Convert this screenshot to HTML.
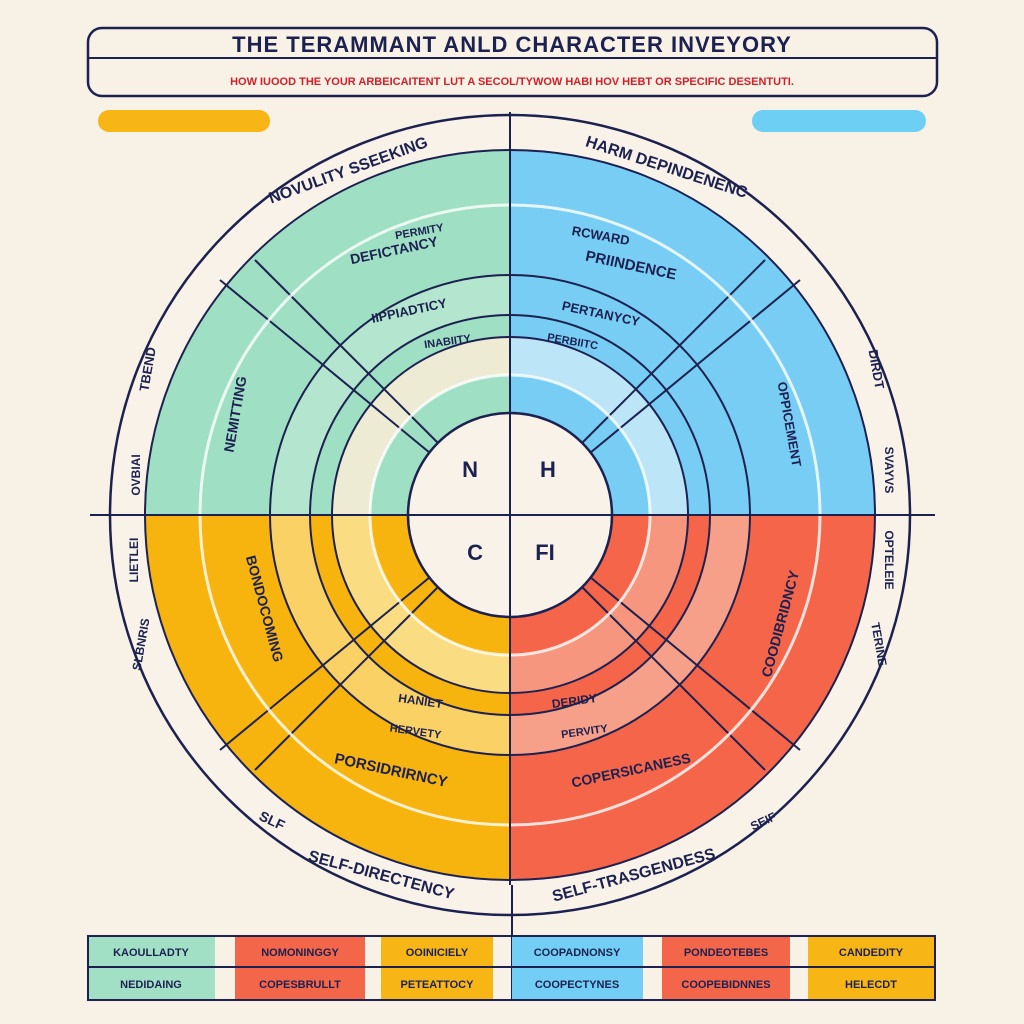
<!DOCTYPE html>
<html><head><meta charset="utf-8"><style>
body{margin:0;background:#f7f1e6;}
svg{display:block}
text{font-family:"Liberation Sans",sans-serif;font-weight:bold;fill:#1c2150}
</style></head><body>
<svg width="1024" height="1024" viewBox="0 0 1024 1024" xmlns="http://www.w3.org/2000/svg">
<rect width="1024" height="1024" fill="#f7f1e6"/>
<!-- header -->
<rect x="88" y="28" width="849" height="68" rx="14" fill="none" stroke="#1c2150" stroke-width="2.5"/>
<line x1="88" y1="58" x2="937" y2="58" stroke="#1c2150" stroke-width="2"/>
<text x="512" y="52" font-size="22" text-anchor="middle" letter-spacing="1">THE TERAMMANT ANLD CHARACTER  INVEYORY</text>
<text x="512" y="85" font-size="11" text-anchor="middle" style="fill:#d0202a">HOW IUOOD THE YOUR ARBEICAITENT LUT A SECOL/TYWOW HABI  HOV HEBT OR SPECIFIC DESENTUTI.</text>
<rect x="98" y="110" width="172" height="22" rx="11" fill="#f8b616"/>
<rect x="752" y="110" width="174" height="22" rx="11" fill="#6ecff5"/>
<!-- circle -->
<g transform="translate(510,515)">
<circle r="400" fill="#f8f2e8" stroke="#1c2150" stroke-width="2.5"/>
<path d="M0 0 L0 -365 A365 365 0 0 0 -365 0Z" fill="#9fdfc4"/>
<path d="M0 0 L365 0 A365 365 0 0 0 0 -365Z" fill="#78cdf5"/>
<path d="M0 0 L-365 0 A365 365 0 0 0 0 365Z" fill="#f7b40e"/>
<path d="M0 0 L0 365 A365 365 0 0 0 365 0Z" fill="#f4654a"/>
<!-- pale bands -->
<path d="M0 -178 A178 178 0 0 0 -178 0 L-140 0 A140 140 0 0 1 0 -140Z" fill="#f5ecd6" opacity="0.9"/>
<path d="M178 0 A178 178 0 0 0 0 -178 L0 -140 A140 140 0 0 1 140 0Z" fill="#cdebf7" opacity="0.8"/>
<path d="M-178 0 A178 178 0 0 0 0 178 L0 140 A140 140 0 0 1 -140 0Z" fill="#f9e190" opacity="0.9"/>
<path d="M0 178 A178 178 0 0 0 178 0 L140 0 A140 140 0 0 1 0 140Z" fill="#f6b7a2" opacity="0.6"/>
<path d="M0 -240 A240 240 0 0 0 -240 0 L-200 0 A200 200 0 0 1 0 -200Z" fill="#c3e9d6" opacity="0.6"/>
<path d="M0 240 A240 240 0 0 0 240 0 L200 0 A200 200 0 0 1 0 200Z" fill="#f8c8b4" opacity="0.6"/>
<path d="M-240 0 A240 240 0 0 0 0 240 L0 200 A200 200 0 0 1 -200 0Z" fill="#fbe5a0" opacity="0.6"/>
<g fill="none" stroke="#1c2150" stroke-width="2">
<circle r="365"/><circle r="240"/><circle r="200"/><circle r="178"/>
<line x1="-70" y1="-70" x2="-255" y2="-255"/><line x1="-80" y1="-62" x2="-290" y2="-235"/>
<line x1="70" y1="-70" x2="255" y2="-255"/><line x1="80" y1="-62" x2="290" y2="-235"/>
<line x1="-70" y1="70" x2="-255" y2="255"/><line x1="-80" y1="62" x2="-290" y2="235"/>
<line x1="70" y1="70" x2="255" y2="255"/><line x1="80" y1="62" x2="290" y2="235"/>
</g>
<g stroke="#fff" stroke-width="3" fill="none" opacity="0.8"><circle r="310"/><circle r="140"/></g>
<circle r="102" fill="#f8f2e8" stroke="#1c2150" stroke-width="2.5"/>
<line x1="0" y1="-403" x2="0" y2="370" stroke="#1c2150" stroke-width="2"/>
<line x1="-420" y1="0" x2="425" y2="0" stroke="#1c2150" stroke-width="2"/>
<text x="-40" y="-38" font-size="22" text-anchor="middle">N</text>
<text x="38" y="-38" font-size="22" text-anchor="middle">H</text>
<text x="-35" y="45" font-size="22" text-anchor="middle">C</text>
<text x="35" y="45" font-size="22" text-anchor="middle">FI</text>
</g>
<line x1="512" y1="885" x2="512" y2="1000" stroke="#1c2150" stroke-width="2"/>
<!-- labels -->
<text x="350" y="175" font-size="16" text-anchor="middle" transform="rotate(-20 350 175)">NOVULITY SSEEKING</text>
<text x="665" y="172" font-size="16" text-anchor="middle" transform="rotate(18 665 172)">HARM DEPINDENENC</text>
<text x="395" y="255" font-size="14" text-anchor="middle" transform="rotate(-12 395 255)">DEFICTANCY</text>
<text x="420" y="235" font-size="11" text-anchor="middle" transform="rotate(-10 420 235)">PERMITY</text>
<text x="630" y="270" font-size="15" text-anchor="middle" transform="rotate(12 630 270)">PRIINDENCE</text>
<text x="600" y="240" font-size="13" text-anchor="middle" transform="rotate(10 600 240)">RCWARD</text>
<text x="410" y="315" font-size="13" text-anchor="middle" transform="rotate(-12 410 315)">IIPPIADTICY</text>
<text x="448" y="345" font-size="11" text-anchor="middle" transform="rotate(-8 448 345)">INABIITY</text>
<text x="600" y="318" font-size="13" text-anchor="middle" transform="rotate(12 600 318)">PERTANYCY</text>
<text x="572" y="345" font-size="11" text-anchor="middle" transform="rotate(10 572 345)">PERBIITC</text>
<text x="240" y="415" font-size="14" text-anchor="middle" transform="rotate(-80 240 415)">NEMITTING</text>
<text x="785" y="425" font-size="13" text-anchor="middle" transform="rotate(80 785 425)">OPPICEMENT</text>
<text x="260" y="610" font-size="14" text-anchor="middle" transform="rotate(75 260 610)">BONDOCOMING</text>
<text x="785" y="625" font-size="14" text-anchor="middle" transform="rotate(-75 785 625)">COODIBRIDNCY</text>
<text x="420" y="705" font-size="12" text-anchor="middle" transform="rotate(8 420 705)">HANIET</text>
<text x="415" y="735" font-size="11" text-anchor="middle" transform="rotate(8 415 735)">HERVETY</text>
<text x="575" y="705" font-size="12" text-anchor="middle" transform="rotate(-8 575 705)">DERIDY</text>
<text x="585" y="735" font-size="11" text-anchor="middle" transform="rotate(-8 585 735)">PERVITY</text>
<text x="390" y="775" font-size="15" text-anchor="middle" transform="rotate(12 390 775)">PORSIDRIRNCY</text>
<text x="632" y="775" font-size="14" text-anchor="middle" transform="rotate(-12 632 775)">COPERSICANESS</text>
<text x="380" y="880" font-size="16" text-anchor="middle" transform="rotate(15 380 880)">SELF-DIRECTENCY</text>
<text x="635" y="880" font-size="16" text-anchor="middle" transform="rotate(-15 635 880)">SELF-TRASGENDESS</text>
<text x="270" y="825" font-size="14" text-anchor="middle" transform="rotate(25 270 825)">SLF</text>
<text x="765" y="825" font-size="12" text-anchor="middle" transform="rotate(-25 765 825)">SEIF</text>
<text x="152" y="370" font-size="13" text-anchor="middle" transform="rotate(-80 152 370)">TBEND</text>
<text x="140" y="475" font-size="12" text-anchor="middle" transform="rotate(-90 140 475)">OVBIAI</text>
<text x="138" y="560" font-size="12" text-anchor="middle" transform="rotate(-90 138 560)">LIETLEI</text>
<text x="145" y="645" font-size="12" text-anchor="middle" transform="rotate(-80 145 645)">SLBNRIS</text>
<text x="872" y="370" font-size="13" text-anchor="middle" transform="rotate(80 872 370)">DIRDT</text>
<text x="885" y="470" font-size="12" text-anchor="middle" transform="rotate(90 885 470)">SVAYVS</text>
<text x="885" y="560" font-size="12" text-anchor="middle" transform="rotate(90 885 560)">OPTELEIE</text>
<text x="875" y="645" font-size="12" text-anchor="middle" transform="rotate(80 875 645)">TERINE</text>
<!-- legend -->
<g>
<rect x="88" y="937" width="127" height="30" fill="#a2e0c6"/><rect x="88" y="967" width="127" height="32" fill="#a2e0c6"/>
<rect x="235" y="937" width="130" height="30" fill="#f4664a"/><rect x="235" y="967" width="130" height="32" fill="#f4664a"/>
<rect x="381" y="937" width="112" height="30" fill="#f8b616"/><rect x="381" y="967" width="112" height="32" fill="#f8b616"/>
<rect x="512" y="937" width="131" height="30" fill="#72cef5"/><rect x="512" y="967" width="131" height="32" fill="#72cef5"/>
<rect x="662" y="937" width="128" height="30" fill="#f4664a"/><rect x="662" y="967" width="128" height="32" fill="#f4664a"/>
<rect x="808" y="937" width="127" height="30" fill="#f8b616"/><rect x="808" y="967" width="127" height="32" fill="#f8b616"/>
<rect x="88" y="936" width="847" height="64" fill="none" stroke="#1c2150" stroke-width="2"/>
<line x1="88" y1="967" x2="935" y2="967" stroke="#1c2150" stroke-width="2"/>
<g font-size="11" text-anchor="middle">
<text x="151" y="956">KAOULLADTY</text><text x="151" y="988">NEDIDAING</text>
<text x="300" y="956">NOMONINGGY</text><text x="300" y="988">COPESBRULLT</text>
<text x="437" y="956">OOINICIELY</text><text x="437" y="988">PETEATTOCY</text>
<text x="577" y="956">COOPADNONSY</text><text x="577" y="988">COOPECTYNES</text>
<text x="726" y="956">PONDEOTEBES</text><text x="726" y="988">COOPEBIDNNES</text>
<text x="871" y="956">CANDEDITY</text><text x="871" y="988">HELECDT</text>
</g></g>
</svg>
</body></html>
